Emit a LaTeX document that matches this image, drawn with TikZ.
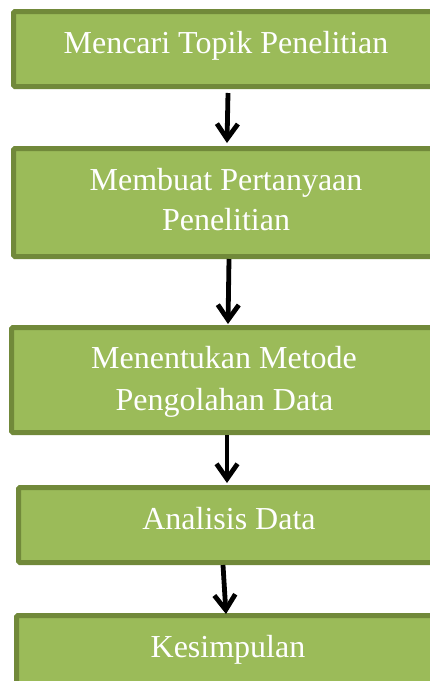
\documentclass[tikz,border=0pt]{standalone}
\usepackage{fontspec}
\setmainfont{Liberation Serif}
\usetikzlibrary{arrows.meta}
\definecolor{boxfill}{HTML}{9BBB59}
\definecolor{boxline}{HTML}{71893A}
\begin{document}
\begin{tikzpicture}[x=1pt,y=-1pt,
  stepbox/.style={draw=boxline,fill=boxfill,line width=5pt,rounded corners=1.5pt,inner sep=0pt,outer sep=0pt},
  lbl/.style={text=white,font=\fontsize{32pt}{40pt}\selectfont,anchor=base,inner sep=0pt},
  arr/.style={line width=4.8pt,-{Straight Barb[length=15pt,width=21pt]}}]
\clip (0,0) rectangle (430,681);
\fill[white] (0,0) rectangle (430,681);
% boxes
\node[stepbox,minimum width=427pt,minimum height=75pt]  (b1) at (227,49) {};
\node[stepbox,minimum width=429pt,minimum height=108pt] (b2) at (228,202.5) {};
\node[stepbox,minimum width=429pt,minimum height=105pt] (b3) at (226,380) {};
\node[stepbox,minimum width=419pt,minimum height=75pt]  (b4) at (228,525) {};
\node[stepbox,minimum width=423pt,minimum height=82pt]  (b5) at (228,656.5) {};
% labels
\node[lbl] (t1)  at (226,53)  {Mencari Topik Penelitian};
\node[lbl] (t2a) at (226,190) {Membuat Pertanyaan};
\node[lbl] (t2b) at (226,230) {Penelitian};
\node[lbl] (t3a) at (224,368) {Menentukan Metode};
\node[lbl] (t3b) at (224.5,410) {Pengolahan Data};
\node[lbl] (t4)  at (229,529) {Analisis Data};
\node[lbl] (t5)  at (228,657) {Kesimpulan};
% arrows
\draw[arr] ([xshift=1pt,yshift=-6.5pt]b1.south) -- ([xshift=-1pt,yshift=5.5pt]b2.north);
\draw[arr] ([xshift=1pt,yshift=-2.5pt]b2.south) -- ([xshift=2pt,yshift=3.5pt]b3.north);
\draw[arr] ([xshift=1pt,yshift=-2.5pt]b3.south) -- ([xshift=-1pt,yshift=4.5pt]b4.north);
\draw[arr] ([xshift=-5pt,yshift=-2.5pt]b4.south) -- ([xshift=-2pt,yshift=1.5pt]b5.north);
\end{tikzpicture}
\end{document}
